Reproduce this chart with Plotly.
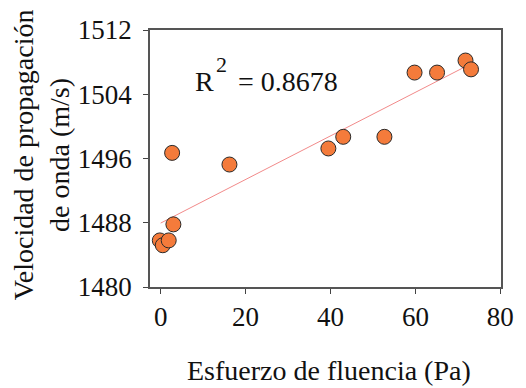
import numpy as np
import plotly.graph_objects as go

# Yield stress (Pa) vs. wave propagation velocity (m/s)
esfuerzo = [-0.2, 0.5, 1.9, 3.0, 2.7, 16.2, 39.5, 43.0, 52.7, 59.8, 65.1, 71.8, 73.1]
velocidad = [1485.8, 1485.2, 1485.8, 1487.8, 1496.7, 1495.25, 1497.25, 1498.7,
             1498.7, 1506.7, 1506.7, 1508.2, 1507.1]

x_ticks = [0, 20, 40, 60, 80]
y_ticks = [1480, 1488, 1496, 1504, 1512]
r2_label = "0.8678"

# Linear trend line fitted to the measurements
slope, intercept = np.polyfit(esfuerzo, velocidad, 1)
x_fit = np.array([0.0, max(esfuerzo)])
y_fit = slope * x_fit + intercept

FONT = "Liberation Serif"

fig = go.Figure()
fig.add_trace(go.Scatter(
    x=x_fit, y=y_fit, mode="lines",
    line=dict(color="#F28A8A", width=1),
    hoverinfo="skip", showlegend=False,
))
fig.add_trace(go.Scatter(
    x=esfuerzo, y=velocidad, mode="markers",
    marker=dict(size=15, color="#F47B3B", line=dict(color="#2a2a2a", width=1)),
    showlegend=False,
))


def note(text, x, y, size, **kw):
    return dict(text=text, xref="paper", yref="paper", x=x, y=y,
                showarrow=False, font=dict(family=FONT, size=size, color="#111"), **kw)


fig.update_layout(
    width=526, height=388,
    margin=dict(l=150, r=14, t=30, b=101),
    paper_bgcolor="white", plot_bgcolor="white",
    font=dict(family=FONT, size=27, color="#111"),
    annotations=[
        # coefficient of determination: R, superscript 2, value
        note("R", 0.122, 0.80, 28, xanchor="left", yanchor="middle"),
        note("2", 0.181, 0.865, 22, xanchor="left", yanchor="middle"),
        note(f"= {r2_label}", 0.244, 0.80, 28, xanchor="left", yanchor="middle"),
        note("Esfuerzo de fluencia (Pa)", 0.511, -0.325, 28,
             xanchor="center", yanchor="middle"),
        note("Velocidad de propagación<br>de onda (m/s)", -0.31, 0.513, 28,
             xanchor="center", yanchor="middle", textangle=-90),
    ],
)
fig.update_xaxes(
    range=[-2.51, 80.16], tickvals=x_ticks, ticks="outside", ticklen=5,
    tickcolor="#444", showline=True, linecolor="#555", linewidth=1.5, mirror=True,
    showgrid=False, zeroline=False, tickfont=dict(family=FONT, size=27),
)
fig.update_yaxes(
    range=[1480, 1512], tickvals=y_ticks, ticks="outside", ticklen=5,
    tickcolor="#444", showline=True, linecolor="#555", linewidth=1.5, mirror=True,
    showgrid=False, zeroline=False, tickfont=dict(family=FONT, size=27), ticklabelstandoff=6,
)

fig.write_html("out.html")
